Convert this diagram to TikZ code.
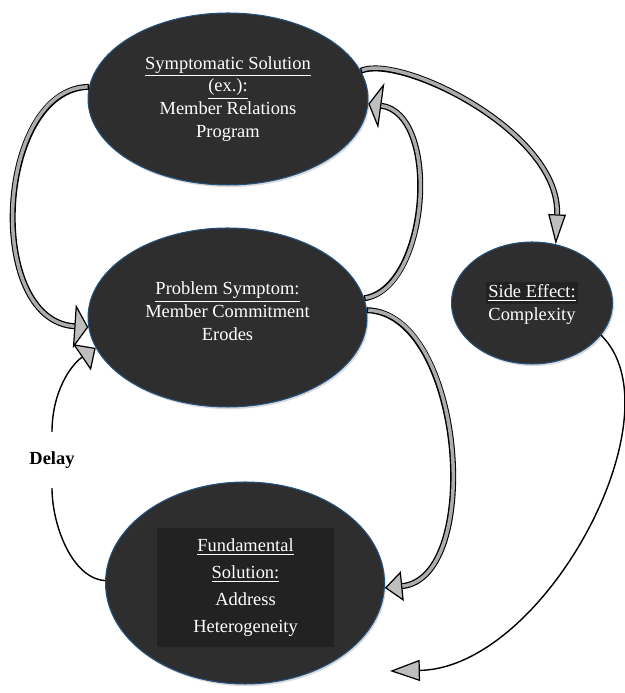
\documentclass[tikz,border=0pt]{standalone}
\usepackage{fontspec}
\setmainfont{Liberation Serif}
\usetikzlibrary{arrows.meta}
\usetikzlibrary{shapes.geometric}
\usetikzlibrary{shadows}
\definecolor{blobgray}{HTML}{2E2E2E}
\definecolor{rimblue}{HTML}{24527F}
\definecolor{boxgray}{HTML}{222222}
\definecolor{headgray}{HTML}{BEBEBE}
\definecolor{bandgray}{HTML}{ADADAD}
\tikzstyle{blob}=[ellipse, fill=blobgray, draw=rimblue, line width=0.6pt,
                  text=white, align=center, inner sep=0pt,
                  font=\fontsize{10.5}{13}\selectfont,
                  drop shadow={shadow xshift=0.8pt, shadow yshift=-1.2pt, opacity=0.3}]
\tikzstyle{textbox}=[fill=boxgray, text=white, align=center,
                     minimum width=3.54cm, minimum height=2.38cm,
                     font=\fontsize{10.5}{15.3}\selectfont]
\tikzset{
  flow/.style 2 args={draw=black, line width=3.4pt,
    -{Triangle[length=#1, width=#2, fill=headgray, line width=0.7pt]},
    postaction={draw=bandgray, line width=2pt, -, shorten >=#1, shorten <=0.7pt}},
  thinflow/.style 2 args={draw=black, line width=0.8pt,
    -{Triangle[length=#1, width=#2, fill=headgray, line width=0.7pt]}}
}

\begin{document}
\begin{tikzpicture}[x=0.02cm, y=0.02cm]
    \useasboundingbox (0,0) rectangle (625,693);
    \node[blob, minimum width=5.6cm, minimum height=3.44cm] (sympt) at (228,594)
      {\underline{Symptomatic Solution}\\ \underline{(ex.):}\\ Member Relations\\ Program};
    \node[blob, minimum width=5.58cm, minimum height=3.58cm] (prob) at (227.5,375.5)
      {\underline{Problem Symptom:}\\ Member Commitment\\ Erodes\\[-6pt]\mbox{}};
    \node[blob, minimum width=3.22cm, minimum height=2.44cm] (side) at (532,390)
      {{\fboxsep=1.5pt\colorbox{boxgray}{\underline{Side Effect:}}}\\ Complexity};
    \node[blob, minimum width=5.58cm, minimum height=4.04cm] (fund) at (245,110) {};
    \node[textbox] (fundtext) at (245.5,105.5)
      {\underline{Fundamental}\\ \underline{Solution:}\\ Address\\ Heterogeneity};
    \node[font=\bfseries\fontsize{10.5}{13}\selectfont, inner ysep=11pt] (delay) at (52,233) {Delay};
    \coordinate (sidetip) at (390,22);
    % loops between the ovals
    \draw[flow={8pt}{25pt}] (sympt.175) .. controls +(-93,-2) and +(-104,7) .. (prob.184);
    \draw[flow={7.5pt}{26pt}] (prob.8) .. controls +(65,10) and +(73,-10) .. (sympt.358);
    \draw[flow={17pt}{10pt}] (sympt.12) .. controls +(40,17) and +(5,112) .. (side.68);
    \draw[flow={10pt}{17pt}] (prob.3) .. controls +(97,-3) and +(99,10) .. (fund.358);
    \draw[thinflow={17pt}{12pt}] (side.335) .. controls +(80,-78) and +(155,3) .. (sidetip);
    \draw[thinflow={9.5pt}{18pt}] (fund.179) .. controls +(-33,2) and +(0,-37) .. (delay.south)
      (delay.north) .. controls +(0,40) and +(-25,-17) .. (prob.193);
\end{tikzpicture}
\end{document}
